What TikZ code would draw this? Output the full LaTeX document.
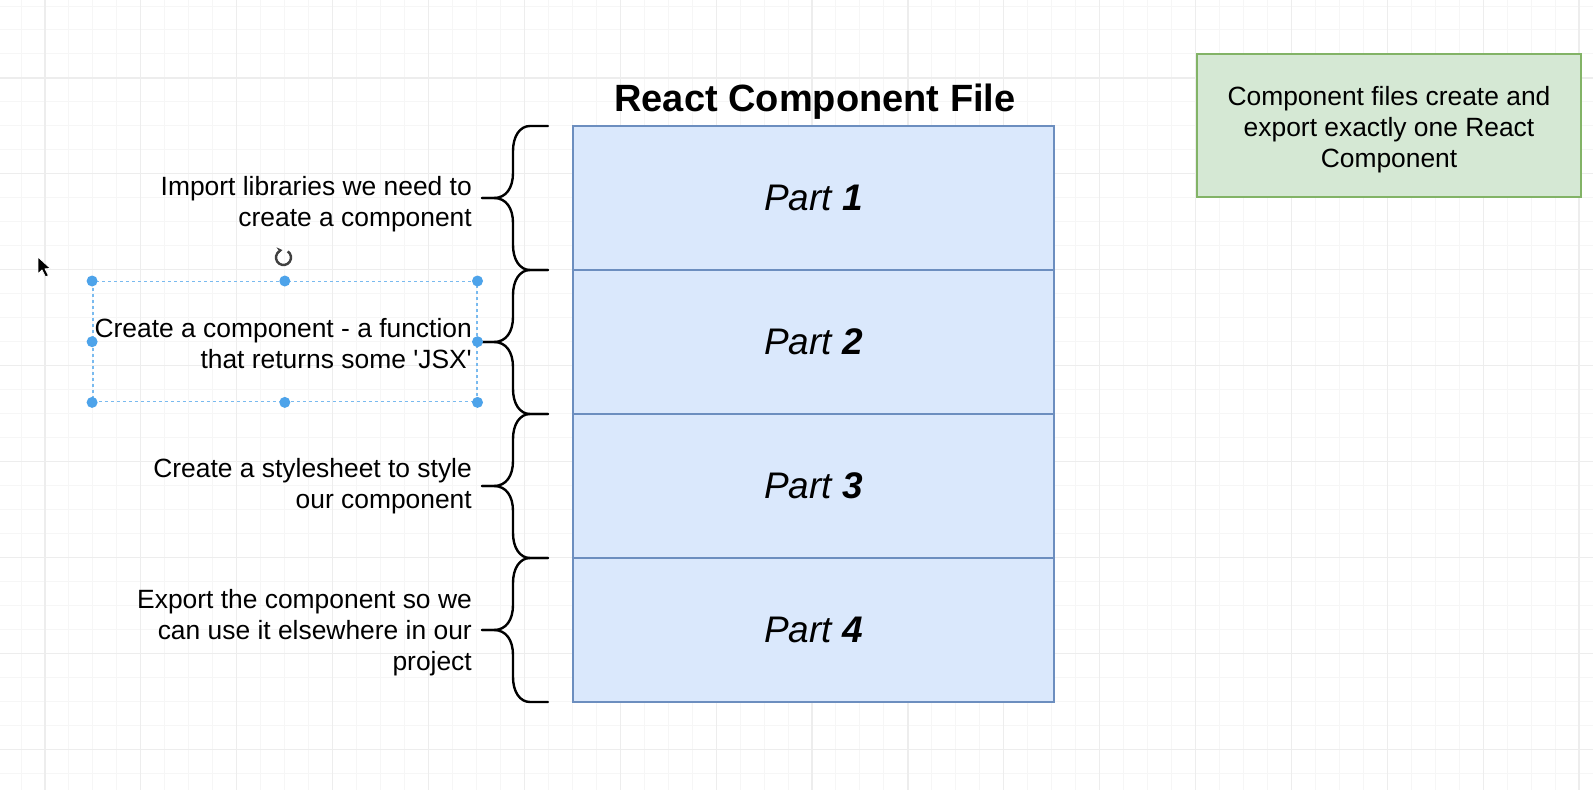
\documentclass[tikz,border=0pt]{standalone}
\usepackage{fontspec}
\setmainfont{Liberation Sans}
\usetikzlibrary{positioning,arrows.meta}
\definecolor{partfill}{HTML}{DAE8FC}
\definecolor{partline}{HTML}{6C8EBF}
\definecolor{notefill}{HTML}{D5E8D4}
\definecolor{noteline}{HTML}{82B366}
\definecolor{handleblue}{HTML}{4DA3EA}
\definecolor{gridminor}{HTML}{F6F6F6}
\definecolor{gridmajor}{HTML}{EDEDED}
\pgfdeclarelayer{gridlayer}
\pgfdeclarelayer{edgelayer}
\pgfdeclarelayer{nodelayer}
\pgfsetlayers{gridlayer,edgelayer,nodelayer,main}
\tikzstyle{minorgrid}=[draw=gridminor, line width=1]
\tikzstyle{majorgrid}=[draw=gridmajor, line width=1.2]
\tikzstyle{part}=[rectangle, fill=partfill, draw=partline, line width=2, outer sep=0, minimum width=481, minimum height=144, font=\fontsize{37}{42}\selectfont\itshape]
\tikzstyle{heading}=[inner sep=0, font=\fontsize{38}{44}\selectfont\bfseries]
\tikzstyle{desc}=[inner sep=0, align=right, font=\fontsize{26.4}{31}\selectfont]
\tikzstyle{note}=[rectangle, fill=notefill, draw=noteline, line width=2, minimum width=384, minimum height=143]
\tikzstyle{notetext}=[inner sep=0, align=center, font=\fontsize{26.4}{31}\selectfont]
\tikzstyle{curly}=[draw=black, line width=2.4, line cap=round, line join=round]
\tikzstyle{selection}=[rectangle, draw=handleblue!75, line width=1.4, dash pattern=on 3 off 3, minimum width=384, minimum height=120, inner sep=0]
\tikzstyle{handle}=[fill=handleblue]
\tikzstyle{rotator}=[draw=black!75, line width=2.4, -{Stealth[length=5.5, width=7]}]
\tikzstyle{pointer}=[fill=black, draw=white, line width=0.8, line join=round]
\tikzset{
  pics/curlybrace/.style={code={
    \draw [style=curly] (0,0) -- (-18,0) .. controls (-28,0) and (-35,10) .. (-35,25) -- (-35,47) .. controls (-35,62) and (-42,72) .. (-54,72) -- (-66,72);
    \draw [style=curly] (-66,72) -- (-54,72) .. controls (-42,72) and (-35,82) .. (-35,97) -- (-35,119) .. controls (-35,134) and (-28,144) .. (-18,144) -- (0,144);
  }}
}

\begin{document}
\begin{tikzpicture}[x=1pt, y=-1pt]
    \useasboundingbox (0,0) rectangle (1593,790);
    \begin{pgfonlayer}{gridlayer}
        \fill [white] (0,0) rectangle (1593,790);
        \foreach \i in {0,...,66} \draw [style=minorgrid] ({21+23.97*\i},0) -- ({21+23.97*\i},790);
        \foreach \j in {0,...,32} \draw [style=minorgrid] (0,{6+23.97*\j}) -- (1593,{6+23.97*\j});
        \foreach \i in {0,...,16} \draw [style=majorgrid] ({45+95.88*\i},0) -- ({45+95.88*\i},790);
        \foreach \j in {0,...,7} \draw [style=majorgrid] (0,{78+95.88*\j}) -- (1593,{78+95.88*\j});
    \end{pgfonlayer}
    \begin{pgfonlayer}{nodelayer}
        \node [style=heading, anchor=base] (title) at (815,111) {React Component File};
        \node [style=part] (part1) at (813.5,198) {Part \textbf{1}};
        \node [style=part, below=0pt of part1] (part2) {Part \textbf{2}};
        \node [style=part, below=0pt of part2] (part3) {Part \textbf{3}};
        \node [style=part, below=0pt of part3] (part4) {Part \textbf{4}};

        \node [style=desc, left=101pt of part1.west, yshift=-6pt] (imports) {Import libraries we need to\\create a component};
        \node [style=desc, left=101pt of part2.west, yshift=-2pt] (component) {Create a component - a function\\that returns some \textquotesingle JSX\textquotesingle};
        \node [style=desc, left=101pt of part3.west] (stylesheet) {Create a stylesheet to style\\our component};
        \node [style=desc, left=101pt of part4.west, yshift=-3pt] (exporting) {Export the component so we\\can use it elsewhere in our\\project};

        \node [style=note] (note) at (1389,125.5) {};
        \node [style=notetext] (notetext) at ([yshift=-4pt]note.center) {Component files create and\\export exactly one React\\Component};
    \end{pgfonlayer}
    \begin{pgfonlayer}{edgelayer}
        \pic (b1) at ([xshift=-25pt]part1.north west) {curlybrace};
        \pic (b2) at ([xshift=-25pt]part2.north west) {curlybrace};
        \pic (b3) at ([xshift=-25pt]part3.north west) {curlybrace};
        \pic (b4) at ([xshift=-25pt]part4.north west) {curlybrace};
    \end{pgfonlayer}

    \node [style=selection] (selbox) at (284.8,341.7) {};
    \foreach \a in {north west,north,north east,east,south east,south,south west,west}
        \fill [style=handle] (selbox.\a) circle (5.5);
    \coordinate (rot) at (283.5,257.5);
    \draw [style=rotator] ([shift={(-55:7.5)}]rot) arc [start angle=-55, end angle=262, radius=7.5];
    \fill [style=pointer] (38,257) -- (38,274) -- (42,270) -- (45.5,277) -- (48.5,275.6) -- (45,268.8) -- (50.5,268.5) -- cycle;
\end{tikzpicture}
\end{document}
